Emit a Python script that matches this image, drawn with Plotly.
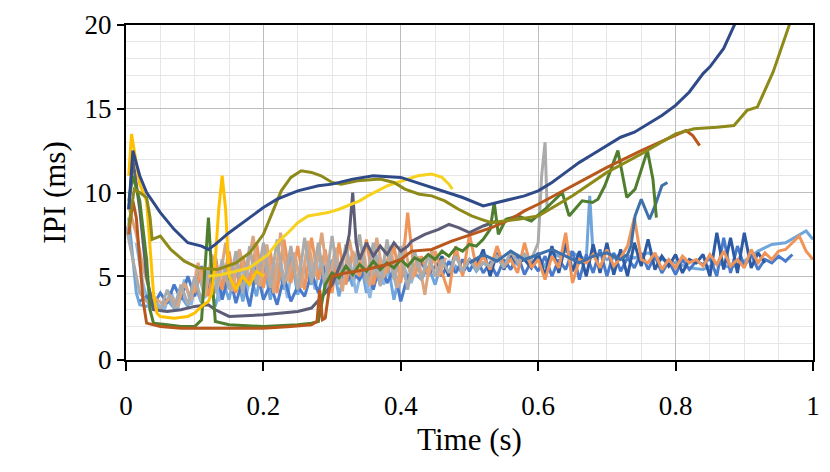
import plotly.graph_objects as go

# ---------------- data ----------------
navy_t = [0.004, 0.01, 0.02, 0.03, 0.05, 0.07, 0.09, 0.10, 0.11, 0.12, 0.13, 0.15, 0.18, 0.20, 0.22, 0.25,
          0.28, 0.30, 0.33, 0.36, 0.40, 0.43, 0.46, 0.49, 0.52, 0.55, 0.58, 0.60, 0.62, 0.64, 0.66, 0.68,
          0.70, 0.72, 0.74, 0.76, 0.78, 0.80, 0.82, 0.84, 0.85, 0.87, 0.88, 0.89]
navy_v = [9.0, 12.5, 11.0, 10.0, 8.8, 7.8, 7.0, 6.9, 6.8, 6.6, 6.9, 7.6, 8.5, 9.1, 9.6, 10.1,
          10.4, 10.5, 10.8, 11.0, 10.9, 10.5, 10.1, 9.7, 9.2, 9.5, 9.8, 10.1, 10.6, 11.2, 11.8, 12.3,
          12.8, 13.3, 13.6, 14.1, 14.6, 15.2, 16.0, 17.1, 17.5, 18.6, 19.5, 20.4]

olive_t = [0.004, 0.012, 0.02, 0.03, 0.035, 0.038, 0.05, 0.065, 0.085, 0.105, 0.133, 0.16, 0.18, 0.20,
           0.226, 0.24, 0.255, 0.27, 0.284, 0.30, 0.313, 0.337, 0.37, 0.39, 0.406, 0.427, 0.445, 0.464,
           0.484, 0.503, 0.517, 0.532, 0.55, 0.571, 0.60, 0.65, 0.70, 0.75, 0.80, 0.827, 0.86, 0.885,
           0.904, 0.919, 0.942, 0.968]
olive_v = [8.0, 10.2, 10.0, 9.7, 8.5, 7.2, 7.4, 6.6, 5.9, 5.5, 5.4, 5.8, 6.4, 7.5,
           10.1, 10.9, 11.3, 11.2, 11.0, 10.6, 10.5, 10.7, 10.8, 10.6, 10.2, 9.9, 9.8, 9.5,
           9.0, 8.6, 8.4, 8.2, 8.3, 8.4, 8.6, 9.8, 11.2, 12.3, 13.5, 13.8, 13.9, 14.0,
           14.9, 15.1, 17.2, 20.3]

brown_t = [0.004, 0.01, 0.015, 0.02, 0.025, 0.03, 0.05, 0.08, 0.12, 0.16, 0.20, 0.24, 0.27, 0.278,
           0.282, 0.286, 0.29, 0.295, 0.30, 0.32, 0.35, 0.38, 0.40, 0.416, 0.445, 0.474, 0.503, 0.532,
           0.56, 0.58, 0.60, 0.65, 0.70, 0.75, 0.80, 0.815, 0.825, 0.835]
brown_v = [7.5, 9.5, 8.5, 6.0, 3.5, 2.2, 2.0, 1.9, 1.9, 1.9, 1.9, 2.0, 2.1, 2.3,
           4.2, 2.4, 2.5, 4.0, 5.0, 5.2, 5.4, 5.7, 6.0, 6.5, 6.6, 7.1, 7.5, 7.9,
           8.4, 8.9, 9.3, 10.4, 11.5, 12.5, 13.4, 13.7, 13.4, 12.8]

gold_t = [0.004, 0.008, 0.012, 0.02, 0.03, 0.035, 0.04, 0.045, 0.05, 0.07, 0.09, 0.10, 0.11, 0.12,
          0.125, 0.13, 0.135, 0.14, 0.145, 0.15, 0.16, 0.17, 0.18, 0.19, 0.20]
gold_v = [11.0, 13.5, 12.5, 10.5, 9.5, 7.0, 4.0, 2.8, 2.6, 2.5, 2.6, 2.8, 3.2, 3.5,
          4.0, 6.0, 9.0, 11.0, 9.0, 5.0, 4.2, 5.0, 4.5, 5.3, 5.0]

yellow_t = [0.12, 0.14, 0.16, 0.179, 0.19, 0.207, 0.22, 0.236, 0.25, 0.265, 0.28, 0.294, 0.31, 0.323,
            0.34, 0.352, 0.365, 0.38, 0.395, 0.41, 0.425, 0.445, 0.46, 0.47, 0.475]
yellow_v = [5.0, 5.1, 5.3, 5.5, 5.8, 6.3, 7.0, 7.6, 8.2, 8.6, 8.7, 8.8, 9.0, 9.2,
            9.5, 9.8, 10.1, 10.4, 10.6, 10.8, 11.0, 11.1, 10.9, 10.5, 10.2]

green_t = [0.004, 0.01, 0.02, 0.03, 0.035, 0.04, 0.06, 0.08, 0.10, 0.11, 0.115, 0.12, 0.125, 0.13,
           0.15, 0.20, 0.25, 0.27, 0.28, 0.285, 0.29, 0.30, 0.31, 0.32, 0.33, 0.34, 0.35, 0.36, 0.37,
           0.38, 0.39, 0.40, 0.41, 0.42, 0.43, 0.44, 0.45, 0.46, 0.47, 0.48, 0.49, 0.50, 0.51, 0.52,
           0.53, 0.536, 0.542, 0.553, 0.57, 0.59, 0.61, 0.625, 0.635, 0.645, 0.664, 0.679, 0.687,
           0.697, 0.716, 0.729, 0.741, 0.759, 0.767, 0.772]
green_v = [9.5, 11.0, 9.5, 6.0, 3.0, 2.2, 2.1, 2.0, 2.0, 2.4, 5.5, 8.5, 5.0, 2.3,
           2.1, 2.0, 2.1, 2.2, 2.3, 3.5, 4.5, 5.2, 4.9, 5.6, 5.1, 5.7, 5.3, 5.9, 5.4,
           5.8, 5.5, 6.0, 5.6, 6.1, 5.9, 6.3, 6.0, 6.5, 6.2, 6.7, 6.5, 6.9, 6.8, 7.2,
           7.8, 9.4, 7.5, 8.4, 8.6, 8.3, 9.0, 9.6, 10.0, 8.6, 9.5, 9.4, 9.6,
           10.4, 12.5, 9.7, 10.2, 12.5, 10.8, 8.5]

slate_t = [0.004, 0.01, 0.02, 0.03, 0.04, 0.06, 0.08, 0.10, 0.12, 0.13, 0.15, 0.20, 0.25, 0.27, 0.29,
           0.30, 0.31, 0.32, 0.325, 0.33, 0.335, 0.34, 0.35, 0.36, 0.37, 0.38, 0.39, 0.40, 0.41,
           0.416, 0.435, 0.455, 0.47, 0.484, 0.50, 0.52, 0.54]
slate_v = [9.0, 12.0, 9.0, 5.0, 3.0, 2.9, 3.0, 3.2, 3.3, 3.0, 2.6, 2.7, 2.9, 3.1, 4.0,
           4.5, 5.5, 6.5, 7.5, 10.0, 7.0, 6.0, 7.0, 6.2, 6.8, 6.3, 7.0, 6.5, 6.8,
           7.1, 7.5, 7.8, 8.1, 7.9, 7.6, 8.0, 8.3]

grey_t0, grey_dt = 0.0, 0.01
grey_v = [8.0, 6.0, 4.0, 3.5, 3.2, 3.0, 4.2, 3.1, 4.5, 3.3, 5.0, 3.5, 5.5, 4.0, 6.0, 4.2, 6.5, 4.0,
          6.8, 4.5, 7.0, 4.3, 7.2, 4.5, 6.8, 4.2, 7.3, 4.6, 7.0, 4.3, 7.4, 4.5, 6.9, 4.8, 7.5, 4.6,
          7.0, 4.4, 7.2, 4.8, 6.8, 4.2, 6.5, 4.8, 6.3, 5.0, 6.0, 5.2, 6.2, 5.3, 6.0, 5.4, 5.8, 5.6,
          6.2, 5.5, 6.5, 5.8, 6.3, 6.0, 7.0]
grey_tail_t = [0.605, 0.61, 0.613]
grey_tail_v = [11.0, 13.0, 9.0]

peach_t0, peach_dt = 0.005, 0.01
peach_v = [9.0, 7.5, 5.5, 4.0, 3.6, 3.3, 3.8, 3.2, 4.6, 3.6, 5.8, 3.8, 6.3, 4.4, 7.0, 4.1, 6.6, 4.9,
           7.4, 4.4, 6.9, 4.0, 7.6, 4.7, 6.4, 4.3, 7.1, 5.0, 7.6, 4.5, 6.7, 4.1, 7.2, 5.1, 6.6, 4.4,
           7.3, 4.9, 6.8, 4.3, 7.0, 4.8, 6.2, 3.9, 6.6, 5.0, 6.1]

pale_t0, pale_dt = 0.015, 0.01
pale_v = [7.0, 4.5, 3.0, 3.4, 2.9, 4.1, 3.0, 4.8, 3.3, 5.3, 3.7, 6.1, 3.5, 5.6, 4.3, 6.6, 3.8, 6.0,
          4.6, 6.8, 4.0, 5.9, 3.7, 6.4, 4.5, 7.0, 4.2, 6.2, 3.9, 6.6, 4.4, 6.1, 4.0, 5.8, 3.7, 6.3,
          4.5, 5.9, 4.1, 5.5, 4.6, 5.8]

orange_t0, orange_dt = 0.10, 0.01
orange_v = [4.0, 5.5, 3.8, 6.0, 4.2, 6.5, 4.0, 6.2, 4.5, 7.0, 4.3, 6.5, 4.0, 7.2, 4.6, 6.8, 4.2, 7.3,
            4.8, 6.6, 4.0, 7.0, 4.5, 6.5, 5.0, 7.2, 4.5, 6.0, 5.2, 6.8, 4.6, 8.8, 5.0, 6.2, 5.0, 6.5,
            5.2, 4.0, 6.8, 5.0, 7.5, 5.5, 6.2, 5.4, 6.8, 5.6, 6.0, 5.2, 7.0, 5.5, 6.0, 4.8, 6.2, 5.5,
            7.6, 4.6, 6.0, 5.8, 6.3, 5.5, 6.6, 5.6, 6.1, 6.8, 8.5, 6.0, 5.8, 6.4, 5.4, 6.0, 5.5, 6.2,
            5.8, 6.0, 5.6, 6.3, 5.7, 6.5, 5.6, 6.0, 5.5, 6.6, 5.8, 6.4, 6.0, 6.5, 6.6, 7.0, 7.4, 6.5,
            6.0]

lblue_t = [0.004, 0.01, 0.015, 0.02, 0.03, 0.04, 0.05, 0.06, 0.07, 0.08, 0.09, 0.10, 0.11, 0.12, 0.13,
           0.14, 0.15, 0.16, 0.17, 0.18, 0.19, 0.20, 0.21, 0.22, 0.23, 0.24, 0.25, 0.26, 0.27, 0.28,
           0.29, 0.30, 0.31, 0.32, 0.33, 0.34, 0.35, 0.36, 0.37, 0.38, 0.39, 0.40, 0.41, 0.42, 0.43,
           0.44, 0.45, 0.46, 0.47, 0.48, 0.49, 0.50, 0.51, 0.52, 0.53, 0.54, 0.55, 0.56, 0.57, 0.58,
           0.59, 0.60, 0.61, 0.62, 0.63, 0.64, 0.65, 0.66, 0.67, 0.675, 0.68, 0.69, 0.70, 0.72, 0.74,
           0.76, 0.78, 0.80, 0.82, 0.84, 0.86, 0.88, 0.90, 0.92, 0.94, 0.96, 0.98, 0.99, 1.0]
lblue_v = [8.5, 6.0, 4.0, 3.3, 3.2, 3.5, 3.0, 3.6, 3.1, 3.8, 3.2, 4.5, 3.4, 5.0, 3.2,
           4.8, 3.6, 5.5, 3.5, 5.2, 3.8, 6.0, 3.6, 5.8, 4.2, 6.2, 3.9, 5.5, 4.5, 6.5,
           4.2, 6.0, 3.8, 5.6, 4.4, 6.3, 4.0, 5.8, 4.5, 6.0, 3.6, 5.5, 4.6, 5.2, 4.8,
           5.6, 4.5, 5.9, 5.0, 5.6, 5.2, 6.0, 5.3, 5.8, 5.5, 6.2, 5.6, 6.0, 5.7, 6.3,
           5.8, 6.1, 5.6, 6.4, 6.2, 6.5, 6.4, 6.2, 6.0, 9.8, 6.2, 6.3, 6.0, 6.3, 6.1,
           6.4, 6.0, 5.8, 5.5, 5.4, 5.8, 5.5, 5.9, 6.5, 6.9, 7.0, 7.5, 7.7, 7.2]

mblue_t0, mblue_dt = 0.02, 0.01
mblue_v = [3.5, 3.8, 3.3, 4.0, 3.4, 4.5, 3.6, 5.0, 3.8, 5.6, 4.0, 6.2, 3.6, 5.2, 3.4, 4.8, 3.2, 5.5,
           3.6, 4.5, 3.3, 5.0, 3.5, 4.4, 3.8, 5.2, 4.0, 5.6, 4.4, 5.8, 4.6, 5.2, 4.8, 5.5, 4.2, 5.8,
           4.6, 5.4, 3.5, 5.0, 5.3, 5.8, 5.1, 5.6, 5.0, 5.9, 5.2, 6.0, 5.3, 6.1, 5.2, 5.8, 5.0, 6.0,
           5.4, 6.3, 5.1, 5.9, 5.3, 6.2, 5.0, 6.0, 5.4, 6.5, 4.8, 6.3, 5.2, 6.6, 5.0, 6.4, 5.3, 6.1,
           5.5, 6.4, 5.4, 6.2, 5.2, 5.9, 5.1, 6.0, 5.4, 5.9, 5.7, 6.1, 5.0, 7.3, 5.2, 6.8, 5.6, 6.3,
           5.4, 6.0, 5.8, 6.2, 5.9, 6.3]

dblue_t0, dblue_dt = 0.45, 0.01
dblue_v = [5.5, 6.2, 5.0, 6.5, 5.2, 6.0, 5.6, 6.6, 5.0, 6.4, 5.4, 6.2, 5.8, 6.0, 5.5, 6.4, 5.0, 6.8,
           5.2, 7.0, 5.3, 6.5, 5.0, 6.9, 5.2, 7.0, 5.1, 6.6, 5.0, 7.0, 5.6, 7.2, 5.4, 6.2, 5.6, 6.3,
           5.2, 6.0, 5.8, 6.3, 5.0, 7.6, 5.4, 7.3, 5.2, 7.6, 5.5, 6.4, 5.8]

steel_t = [0.50, 0.52, 0.54, 0.56, 0.58, 0.60, 0.62, 0.64, 0.66, 0.68, 0.70, 0.72, 0.73, 0.735,
           0.741, 0.75, 0.762, 0.77, 0.78, 0.788]
steel_v = [5.8, 6.3, 5.9, 6.5, 6.0, 6.3, 6.6, 6.2, 5.8, 6.2, 6.4, 6.0, 6.3, 6.8,
           8.6, 9.6, 8.4, 9.2, 10.4, 10.6]

x_ticks = [0, 0.2, 0.4, 0.6, 0.8, 1]
x_tick_text = ["0", "0.2", "0.4", "0.6", "0.8", "1"]
y_ticks = [0, 5, 10, 15, 20]
y_tick_text = ["0", "5", "10", "15", "20"]


def grid(t0, dt, vals):
    return [round(t0 + dt * i, 4) for i in range(len(vals))]


series = [
    (lblue_t, lblue_v, "#6FA5DA"),
    (grid(pale_t0, pale_dt, pale_v), pale_v, "#8DB6E2"),
    (grid(mblue_t0, mblue_dt, mblue_v), mblue_v, "#4A7BCB"),
    (grid(dblue_t0, dblue_dt, dblue_v), dblue_v, "#2C5AA3"),
    (grid(orange_t0, orange_dt, orange_v), orange_v, "#F0955A"),
    (grid(peach_t0, peach_dt, peach_v), peach_v, "#DDA57E"),
    (grid(grey_t0, grey_dt, grey_v) + grey_tail_t, grey_v + grey_tail_v, "#ABABAB"),
    (steel_t, steel_v, "#3E70A9"),
    (slate_t, slate_v, "#5D5D78"),
    (green_t, green_v, "#4F7F2E"),
    (brown_t, brown_v, "#B8581C"),
    (gold_t, gold_v, "#FFC000"),
    (yellow_t, yellow_v, "#F6D21E"),
    (olive_t, olive_v, "#8E8A1A"),
    (navy_t, navy_v, "#2F4A88"),
]

fig = go.Figure()
for t, v, c in series:
    fig.add_trace(go.Scatter(x=t, y=v, mode="lines",
                             line=dict(color=c, width=3),
                             showlegend=False, hoverinfo="skip"))

font_family = "Liberation Serif, Times New Roman, serif"
fig.update_layout(
    width=830, height=472,
    margin=dict(l=126, r=10, t=20, b=112),
    plot_bgcolor="white", paper_bgcolor="white",
    font=dict(family=font_family, size=26, color="black"),
)
fig.update_xaxes(
    range=[0, 1], tickvals=x_ticks, ticktext=x_tick_text,
    showgrid=True, gridcolor="#BDBDBD", gridwidth=1,
    minor=dict(dtick=0.05, showgrid=True, gridcolor="#E6E6E6", gridwidth=1),
    showline=True, linecolor="black", linewidth=2, mirror=True,
    ticks="outside", ticklen=9, tickwidth=2, tickcolor="black",
    ticklabelstandoff=12,
    zeroline=False,
    title=dict(text="Time (s)", font=dict(size=31), standoff=8),
    tickfont=dict(size=27),
)
fig.update_yaxes(
    range=[0, 20], tickvals=y_ticks, ticktext=y_tick_text,
    showgrid=True, gridcolor="#BDBDBD", gridwidth=1,
    minor=dict(dtick=1, showgrid=True, gridcolor="#E6E6E6", gridwidth=1),
    showline=True, linecolor="black", linewidth=2, mirror=True,
    ticks="outside", ticklen=7, tickwidth=2, tickcolor="black",
    zeroline=False,
    title=dict(text="IPI (ms)", font=dict(size=31), standoff=10),
    tickfont=dict(size=27),
)

fig.write_html("out.html")
